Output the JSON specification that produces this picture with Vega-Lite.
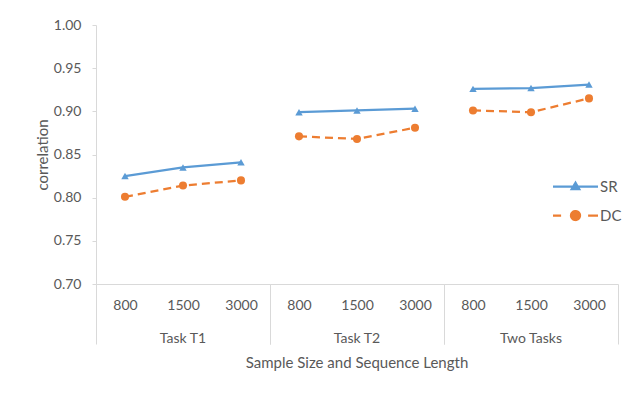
{
  "$schema": "https://vega.github.io/schema/vega-lite/v6.json",
  "padding": {"left": 35, "top": 18, "right": 5, "bottom": 5},
  "background": "white",
  "data": {
    "values": [
      {"group": "Task T1", "size": "800", "series": "SR", "value": 0.825},
      {"group": "Task T1", "size": "1500", "series": "SR", "value": 0.835},
      {"group": "Task T1", "size": "3000", "series": "SR", "value": 0.841},
      {"group": "Task T1", "size": "800", "series": "DC", "value": 0.801},
      {"group": "Task T1", "size": "1500", "series": "DC", "value": 0.814},
      {"group": "Task T1", "size": "3000", "series": "DC", "value": 0.820},
      {"group": "Task T2", "size": "800", "series": "SR", "value": 0.899},
      {"group": "Task T2", "size": "1500", "series": "SR", "value": 0.901},
      {"group": "Task T2", "size": "3000", "series": "SR", "value": 0.903},
      {"group": "Task T2", "size": "800", "series": "DC", "value": 0.871},
      {"group": "Task T2", "size": "1500", "series": "DC", "value": 0.868},
      {"group": "Task T2", "size": "3000", "series": "DC", "value": 0.881},
      {"group": "Two Tasks", "size": "800", "series": "SR", "value": 0.926},
      {"group": "Two Tasks", "size": "1500", "series": "SR", "value": 0.927},
      {"group": "Two Tasks", "size": "3000", "series": "SR", "value": 0.931},
      {"group": "Two Tasks", "size": "800", "series": "DC", "value": 0.901},
      {"group": "Two Tasks", "size": "1500", "series": "DC", "value": 0.899},
      {"group": "Two Tasks", "size": "3000", "series": "DC", "value": 0.915}
    ]
  },
  "facet": {
    "column": {
      "field": "group",
      "type": "nominal",
      "sort": ["Task T1", "Task T2", "Two Tasks"],
      "title": "Sample Size and Sequence Length",
      "header": {
        "labelOrient": "bottom",
        "titleOrient": "bottom",
        "labelFont": "Lato",
        "labelFontSize": 14,
        "labelColor": "#595959",
        "labelPadding": -13,
        "titleFont": "Lato",
        "titleFontSize": 15,
        "titleFontWeight": "normal",
        "titleColor": "#595959",
        "titlePadding": 0
      }
    }
  },
  "spacing": 0,
  "spec": {
    "width": 174,
    "height": 259,
    "encoding": {
      "x": {
        "field": "size",
        "type": "nominal",
        "sort": ["800", "1500", "3000"],
        "scale": {"paddingInner": 0, "paddingOuter": 0},
        "title": null,
        "axis": {
          "labelAngle": 0,
          "labelFont": "Lato",
          "labelFontSize": 14,
          "labelColor": "#595959",
          "labelPadding": -46,
          "domainColor": "#D9D9D9",
          "domainWidth": 1,
          "tickBand": "extent",
          "tickSize": 60,
          "tickColor": "#D9D9D9",
          "tickOpacity": {"condition": {"test": "datum.value === '3000' || datum.value == null", "value": 1}, "value": 0},
          "grid": false
        }
      },
      "y": {
        "field": "value",
        "type": "quantitative",
        "scale": {"domain": [0.7, 1.0], "zero": false, "nice": false},
        "title": "correlation",
        "axis": {
          "values": [0.7, 0.75, 0.8, 0.85, 0.9, 0.95, 1.0],
          "format": ".2f",
          "grid": false,
          "labelFont": "Lato",
          "labelFontSize": 14,
          "labelColor": "#595959",
          "labelPadding": 11,
          "tickSize": 4,
          "tickColor": "#D9D9D9",
          "domainColor": "#D9D9D9",
          "titleFont": "Lato",
          "titleFontSize": 15,
          "titleFontWeight": "normal",
          "titleColor": "#595959",
          "titlePadding": 3
        }
      },
      "color": {
        "field": "series",
        "type": "nominal",
        "scale": {"domain": ["SR", "DC"], "range": ["#5B9BD5", "#ED7D31"]},
        "legend": {
          "orient": "none",
          "legendX": 469,
          "legendY": 151,
          "title": null,
          "padding": 0,
          "symbolSize": 324,
          "labelOffset": 14,
          "rowPadding": 10,
          "labelFont": "Lato",
          "labelFontSize": 15,
          "labelColor": "#595959",
          "encode": {
            "symbols": {
              "update": {
                "shape": {"signal": "datum.value === 'SR' ? 'M-2.5,0H2.5M0,-0.42L0.42,0.3H-0.42Z' : 'M-2.5,0H-1.6M1.4,0H2.5M0.5,0A0.5,0.5 0 1,1 -0.5,0A0.5,0.5 0 1,1 0.5,0Z'"},
                "fill": {"signal": "datum.value === 'SR' ? '#5B9BD5' : '#ED7D31'"},
                "stroke": {"signal": "datum.value === 'SR' ? '#5B9BD5' : '#ED7D31'"},
                "strokeDash": {"value": [1, 0]},
                "strokeWidth": {"value": 2.25},
                "opacity": {"value": 1},
                "fillOpacity": {"value": 1}
              }
            }
          }
        }
      }
    },
    "layer": [
      {
        "transform": [{"filter": "datum.series === 'SR'"}],
        "mark": {"type": "line", "strokeWidth": 2.25}
      },
      {
        "transform": [{"filter": "datum.series === 'DC'"}],
        "mark": {"type": "line", "strokeWidth": 2.25, "strokeDash": [8, 5]}
      },
      {
        "transform": [{"filter": "datum.series === 'SR'"}],
        "mark": {"type": "point", "filled": true, "opacity": 1, "shape": "triangle-up", "size": 55}
      },
      {
        "transform": [{"filter": "datum.series === 'DC'"}],
        "mark": {"type": "point", "filled": true, "opacity": 1, "shape": "circle", "size": 65}
      }
    ]
  },
  "config": {
    "view": {"stroke": null},
    "font": "Lato"
  }
}
